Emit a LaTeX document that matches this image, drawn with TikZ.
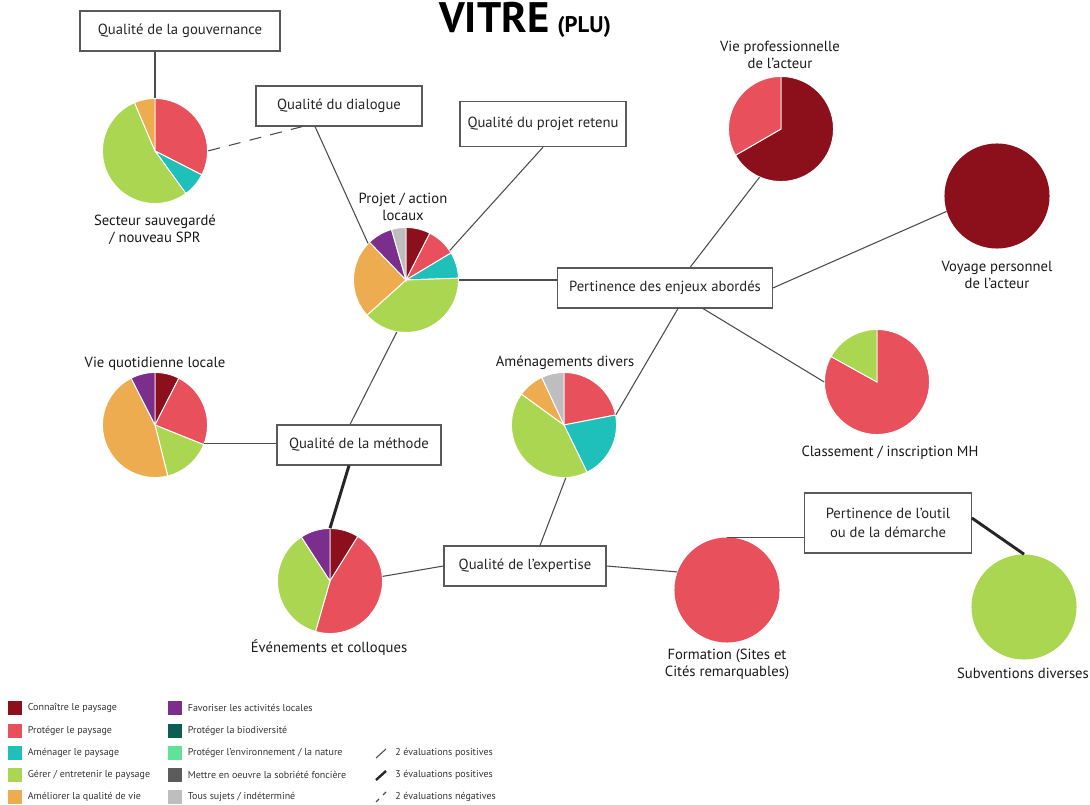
\documentclass[tikz,border=0pt]{standalone}
\usepackage{fontspec}
\setmainfont{PT Sans}
\usetikzlibrary{positioning,calc}
\definecolor{cconn}{RGB}{140,16,28}
\definecolor{cprot}{RGB}{232,80,92}
\definecolor{cam}{RGB}{32,192,186}
\definecolor{cger}{RGB}{170,214,82}
\definecolor{cvie}{RGB}{238,172,80}
\definecolor{cfav}{RGB}{124,46,140}
\definecolor{cbio}{RGB}{12,94,84}
\definecolor{cenv}{RGB}{96,226,152}
\definecolor{csob}{RGB}{92,92,92}
\definecolor{ctous}{RGB}{190,190,190}
\tikzset{
 box/.style={draw=black!65,line width=0.8pt,fill=white,minimum height=30pt,inner sep=2pt,
  text=black!85,font=\fontsize{11}{14}\selectfont,align=center},
 pie/.style={circle,minimum size=78.8pt,inner sep=0pt},
 lbl/.style={text=black!90,font=\fontsize{11}{12.75}\selectfont,align=center},
 link/.style={draw=black!70,line width=0.8pt},
 fort/.style={draw=black!85,line width=2.2pt},
 neg/.style={link,dash pattern=on 9pt off 7pt},
 legsq/.style={minimum size=10.5pt,inner sep=0pt},
 legtxt/.style={font=\fontsize{7.5}{8}\selectfont,text=black!80,inner sep=0pt,anchor=west}
}
\newcommand{\piefill}[2]{\foreach \a/\b/\c in {#2}{\fill[\c,draw=white,line width=0.7pt] (#1.center) -- ++(\a:39.4pt) arc[start angle=\a,end angle=\b,radius=39.4pt] -- cycle;}}
\begin{document}
\begin{tikzpicture}[x=0.75pt,y=-0.75pt]
 \useasboundingbox (0,0) rectangle (1090,805);
 % titre
 \node[anchor=base west,inner sep=0pt,font=\bfseries\fontsize{32}{32}\selectfont] (ttl) at (439,33) {VITRÉ};
 \node[anchor=base west,inner sep=0pt,font=\bfseries\fontsize{17}{17}\selectfont] (plu) at (557,33) {(PLU)};
 % criteres
 \node[box,minimum width=150pt] (gouv) at (180,31) {Qualité de la gouvernance};
 \node[box,minimum width=124.5pt] (dial) at (339,106) {Qualité du dialogue};
 \node[box,minimum width=124.5pt,minimum height=34pt] (ret) at (543,124) {Qualité du projet retenu};
 \node[box,minimum width=161pt] (enj) at (665,288) {Pertinence des enjeux abordés};
 \node[box,minimum width=123pt] (meth) at (359,445) {Qualité de la méthode};
 \node[box,minimum width=121.5pt] (ex) at (525,566) {Qualité de l'expertise};
 \node[box,minimum width=125pt,minimum height=45pt] (out) at (888,523) {Pertinence de l'outil\\ou de la démarche};
 % camemberts
 \node[pie] (sec) at (155,151) {}; \node[lbl] at (155,229.5) {Secteur sauvegardé\\/ nouveau SPR};
 \node[pie] (pj) at (406,280) {}; \node[lbl] at (403,206.5) {Projet / action\\locaux};
 \node[pie] (vp) at (781,129) {}; \node[lbl] at (780,55) {Vie professionnelle\\de l'acteur};
 \node[pie,fill=cconn] (vo) at (997,196) {}; \node[lbl] at (997,274.5) {Voyage personnel\\de l'acteur};
 \node[pie] (cl) at (877,382) {}; \node[lbl] at (890,453) {Classement / inscription MH};
 \node[pie] (vq) at (155,425) {}; \node[lbl] at (155,364) {Vie quotidienne locale};
 \node[pie] (ev) at (330,581) {}; \node[lbl] at (329,648) {Événements et colloques};
 \node[pie] (am) at (564,425) {}; \node[lbl] at (565,363) {Aménagements divers};
 \node[pie,fill=cprot] (fo) at (727,590) {}; \node[lbl] at (727,664) {Formation (Sites et\\Cités remarquables)};
 \node[pie,fill=cger] (sub) at (1024,607) {}; \node[lbl] at (1023,673) {Subventions diverses};
 \piefill{sec}{90/-27/cprot,-27/-54/cam,-54/-247/cger,-247/-270/cvie}
 \piefill{pj}{90/63/cconn,63/31/cprot,31/2/cam,2/-138/cger,-138/-226/cvie,-226/-254/cfav,-254/-270/ctous}
 \piefill{vp}{90/-150/cconn,-150/-270/cprot}
 \piefill{cl}{90/-209/cprot,-209/-270/cger}
 \piefill{vq}{90/63/cconn,63/-22/cprot,-22/-76/cger,-76/-243/cvie,-243/-270/cfav}
 \piefill{ev}{90/58/cconn,58/-106/cprot,-106/-237/cger,-237/-270/cfav}
 \piefill{am}{90/11/cprot,11/-64/cam,-64/-216/cger,-216/-245/cvie,-245/-270/ctous}
 % liens
 \draw[link] (gouv.south -| sec.north) -- (sec.north);
 \draw[neg] ($(dial.south west)+(47,0)$) -- (sec.east);
 \draw[link] ($(dial.south)+(-24,0)$) -- (pj.136);
 \draw[link] (ret.south) -- (pj.34);
 \draw[link] (pj.east) -- (pj.east -| enj.west);
 \draw[link] (pj.-100) -- ($(meth.north)+(-9,0)$);
 \draw[link] (vq.-21) -- (vq.-21 -| meth.west);
 \draw[fort] ($(meth.south)+(-10,0)$) -- (ev.north);
 \draw[link] (ev.5) -- (ex.west);
 \draw[link] ($(ex.north)+(15,0)$) -- (am.-88);
 \draw[link] (ex.east) -- (fo.160);
 \draw[link] ($(enj.north)+(25,0)$) -- (vp.-114);
 \draw[link] ($(enj.south)+(13,0)$) -- (am.11);
 \draw[link] ($(enj.south)+(38,0)$) -- (cl.west);
 \draw[link] (enj.east) -- (vo.197);
 \draw[link] (fo.north) -- (fo.north -| out.west);
 \draw[fort] ($(out.east)+(0,-5)$) -- (sub.north);
 % legende
 \foreach \y/\c/\t [count=\i] in {708/cconn/{Connaître le paysage},731/cprot/{Protéger le paysage},753/cam/{Aménager le paysage},775/cger/{Gérer / entretenir le paysage},797/cvie/{Améliorer la qualité de vie}}
  {\node[legsq,fill=\c] (la\i) at (15,\y) {}; \node[legtxt,right=4pt of la\i] {\t};}
 \foreach \y/\c/\t [count=\i] in {708/cfav/{Favoriser les activités locales},731/cbio/{Protéger la biodiversité},753/cenv/{Protéger l'environnement / la nature},775/csob/{Mettre en oeuvre la sobriété foncière},797/ctous/{Tous sujets / indéterminé}}
  {\node[legsq,fill=\c] (lb\i) at (175,\y) {}; \node[legtxt,right=4pt of lb\i] {\t};}
 \draw[link] (376,758) -- (386,749); \node[legtxt] (lc1) at (395,753) {2 évaluations positives};
 \draw[fort,line width=1.8pt] (376,780) -- (386,771); \node[legtxt] (lc2) at (395,775) {3 évaluations positives};
 \draw[link] (376,802) -- (379,799); \draw[link] (383,795) -- (386,792); \node[legtxt] (lc3) at (395,797) {2 évaluations négatives};
\end{tikzpicture}
\end{document}
